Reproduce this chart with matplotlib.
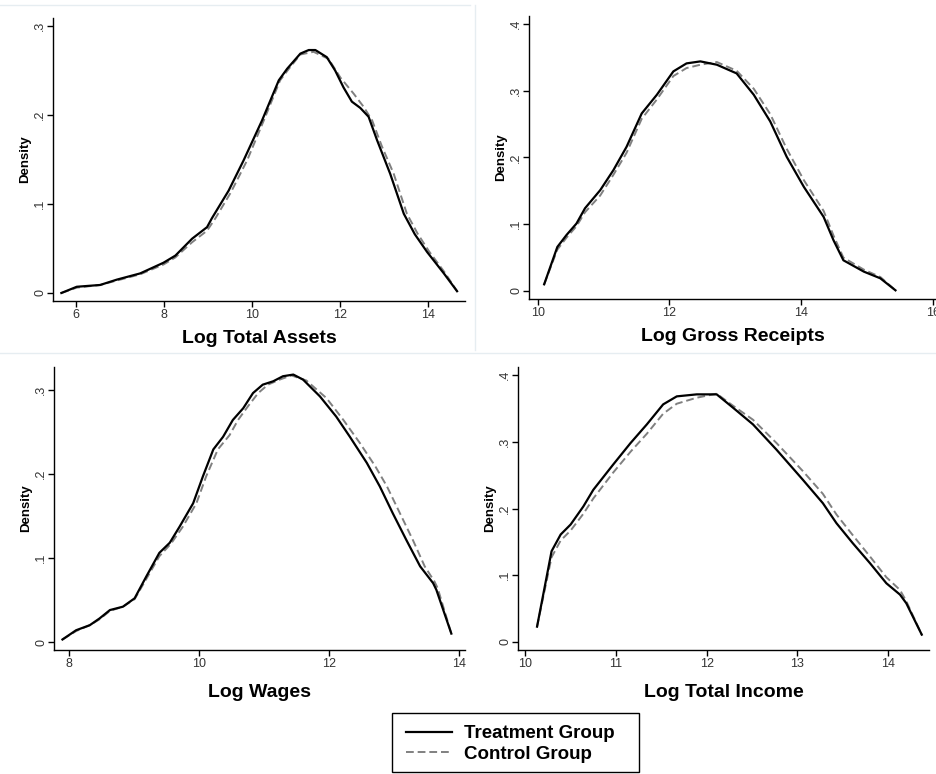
import matplotlib
matplotlib.use("Agg")
import matplotlib.pyplot as plt
from matplotlib.lines import Line2D
from matplotlib.patches import Rectangle

plt.rcParams["font.family"] = ["Liberation Sans", "DejaVu Sans"]

# Log Total Assets
assets_x_t = [5.67, 6.02, 6.55, 6.93, 7.46, 7.99, 8.26, 8.64, 8.98, 9.09, 9.47, 9.81, 10.23, 10.61, 10.80,
              11.10, 11.29, 11.44, 11.70, 11.89, 12.08, 12.27, 12.46, 12.65, 12.84, 13.14, 13.45, 13.70,
              13.98, 14.36, 14.66]
assets_treat = [0.0, 0.007, 0.009, 0.015, 0.022, 0.034, 0.042, 0.061, 0.074, 0.084, 0.115, 0.149, 0.194,
                0.239, 0.252, 0.269, 0.273, 0.273, 0.265, 0.250, 0.231, 0.215, 0.208, 0.198, 0.172, 0.134,
                0.089, 0.066, 0.046, 0.022, 0.002]
assets_x_c = [5.67, 6.02, 6.55, 6.93, 7.46, 7.99, 8.26, 8.64, 8.98, 9.17, 9.52, 9.89, 10.27, 10.64, 10.84,
              11.10, 11.40, 11.74, 12.01, 12.31, 12.54, 12.73, 12.95, 13.22, 13.52, 13.76, 14.02, 14.38,
              14.66]
assets_ctrl = [0.0, 0.006, 0.009, 0.014, 0.021, 0.032, 0.040, 0.057, 0.070, 0.084, 0.113, 0.149, 0.194,
               0.239, 0.252, 0.268, 0.271, 0.263, 0.242, 0.224, 0.209, 0.194, 0.165, 0.134, 0.089, 0.067,
               0.047, 0.023, 0.002]

# Log Gross Receipts
receipts_x = [10.10, 10.30, 10.44, 10.59, 10.72, 10.95, 11.15, 11.35, 11.58, 11.81, 12.06, 12.26, 12.47,
              12.72, 13.02, 13.28, 13.53, 13.78, 14.04, 14.34, 14.49, 14.64, 14.95, 15.20, 15.43]
receipts_treat = [0.010, 0.066, 0.084, 0.101, 0.124, 0.151, 0.181, 0.216, 0.266, 0.294, 0.329, 0.341, 0.344,
                  0.339, 0.326, 0.294, 0.254, 0.201, 0.156, 0.111, 0.076, 0.046, 0.029, 0.019, 0.001]
receipts_ctrl = [0.010, 0.062, 0.080, 0.097, 0.118, 0.143, 0.174, 0.207, 0.258, 0.287, 0.322, 0.334, 0.339,
                 0.343, 0.330, 0.303, 0.265, 0.213, 0.166, 0.120, 0.083, 0.050, 0.032, 0.021, 0.001]

# Log Wages
wages_x_t = [7.90, 8.11, 8.32, 8.47, 8.63, 8.83, 9.01, 9.19, 9.39, 9.55, 9.70, 9.91, 10.06, 10.22, 10.37,
             10.52, 10.68, 10.83, 10.98, 11.14, 11.29, 11.45, 11.60, 11.86, 12.11, 12.32, 12.58, 12.78,
             12.98, 13.19, 13.40, 13.60, 13.65, 13.88]
wages_treat = [0.003, 0.014, 0.020, 0.028, 0.038, 0.042, 0.052, 0.078, 0.106, 0.118, 0.137, 0.165, 0.197,
               0.229, 0.244, 0.264, 0.278, 0.296, 0.306, 0.310, 0.316, 0.318, 0.312, 0.292, 0.268, 0.244,
               0.213, 0.185, 0.153, 0.121, 0.090, 0.070, 0.062, 0.010]
wages_x_c = [7.90, 8.11, 8.32, 8.47, 8.63, 8.83, 9.01, 9.19, 9.39, 9.57, 9.75, 9.96, 10.11, 10.29, 10.47,
             10.60, 10.75, 10.91, 11.06, 11.24, 11.42, 11.65, 11.96, 12.22, 12.47, 12.71, 12.89, 13.09,
             13.29, 13.47, 13.62, 13.67, 13.88]
wages_ctrl = [0.003, 0.013, 0.020, 0.027, 0.037, 0.042, 0.051, 0.075, 0.102, 0.117, 0.137, 0.165, 0.197,
              0.229, 0.246, 0.264, 0.280, 0.296, 0.306, 0.312, 0.317, 0.311, 0.290, 0.264, 0.237, 0.209,
              0.185, 0.153, 0.121, 0.090, 0.072, 0.064, 0.010]

# Log Total Income
income_x = [10.13, 10.29, 10.39, 10.50, 10.64, 10.75, 10.97, 11.16, 11.34, 11.52, 11.67, 11.89, 12.11,
            12.29, 12.51, 12.77, 13.06, 13.28, 13.43, 13.61, 13.80, 13.98, 14.13, 14.20, 14.37]
income_treat = [0.023, 0.136, 0.161, 0.176, 0.203, 0.228, 0.266, 0.298, 0.326, 0.356, 0.368, 0.371, 0.371,
                0.351, 0.326, 0.288, 0.243, 0.208, 0.178, 0.148, 0.118, 0.088, 0.071, 0.058, 0.011]
income_ctrl = [0.023, 0.127, 0.152, 0.167, 0.192, 0.215, 0.254, 0.285, 0.312, 0.342, 0.357, 0.366, 0.372,
               0.354, 0.333, 0.298, 0.256, 0.222, 0.191, 0.160, 0.128, 0.097, 0.078, 0.061, 0.011]

panels = [
    ("Log Total Assets", assets_x_t, assets_treat, assets_x_c, assets_ctrl, [6, 8, 10, 12, 14],
     [0, 0.1, 0.2, 0.3], (5.48, 14.84), (-0.009, 0.309), [53, 18, 465, 301], 6),
    ("Log Gross Receipts", receipts_x, receipts_treat, receipts_x, receipts_ctrl, [10, 12, 14, 16],
     [0, 0.1, 0.2, 0.3, 0.4], (9.87, 16.06), (-0.012, 0.412), [529, 16, 937, 299], 6),
    ("Log Wages", wages_x_t, wages_treat, wages_x_c, wages_ctrl, [8, 10, 12, 14],
     [0, 0.1, 0.2, 0.3], (7.77, 14.09), (-0.0095, 0.327), [54, 367, 465, 650], 10),
    ("Log Total Income", income_x, income_treat, income_x, income_ctrl, [10, 11, 12, 13, 14],
     [0, 0.1, 0.2, 0.3, 0.4], (9.92, 14.45), (-0.012, 0.412), [518, 367, 929, 650], 10),
]

W, H = 937, 774
fig = plt.figure(figsize=(W / 100, H / 100), dpi=100)

# faint panel borders
for x0, y0, x1, y1 in [(0, 5, 470, 5), (475, 5, 475, 350), (0, 353, 937, 353)]:
    fig.add_artist(Line2D([x0 / W, x1 / W], [1 - y0 / H, 1 - y1 / H], color="#e6edf1", lw=1))

handles = None
for title, xt_, tr, xc_, ct, xt, yt, xl, yl, (l, t, r, b), lp in panels:
    ax = fig.add_axes([l / W, 1 - b / H, (r - l) / W, (b - t) / H])
    h2, = ax.plot(xc_, ct, color="#808080", lw=1.4, dashes=(4, 2), label="Control Group")
    h1, = ax.plot(xt_, tr, color="black", lw=1.6, label="Treatment Group")
    handles = [h1, h2]
    ax.set_xlim(*xl)
    ax.set_ylim(*yl)
    ax.set_xticks(xt)
    ax.set_xticklabels([str(v) for v in xt])
    ax.set_yticks(yt)
    ax.set_yticklabels(["0" if v == 0 else ("%.1f" % v)[1:] for v in yt], rotation=90, va="center")
    for s in ["top", "right"]:
        ax.spines[s].set_visible(False)
    for s in ["left", "bottom"]:
        ax.spines[s].set_linewidth(1.0)
    ax.tick_params(direction="out", length=4, width=1, labelsize=9, labelcolor="#333333", pad=2)
    ax.tick_params(axis="y", pad=1)
    ax.set_xlabel(title, fontsize=14, fontweight="bold", labelpad=lp)
    ax.set_ylabel("Density", fontsize=9.5, fontweight="bold", labelpad=2)

# legend box drawn separately, entries placed inside it
fig.add_artist(Rectangle((392 / W, 1 - 772 / H), 247 / W, 59 / H, transform=fig.transFigure,
                         fill=False, edgecolor="black", lw=1.0))
fig.legend(handles, ["Treatment Group", "Control Group"], loc="center left",
           bbox_to_anchor=(406 / W, 1 - 744 / H), frameon=False,
           prop={"weight": "bold", "size": 13.5}, handlelength=2.45,
           borderpad=0, labelspacing=0.2, handletextpad=0.65, borderaxespad=0)

fig.savefig("out.png", dpi=100)
